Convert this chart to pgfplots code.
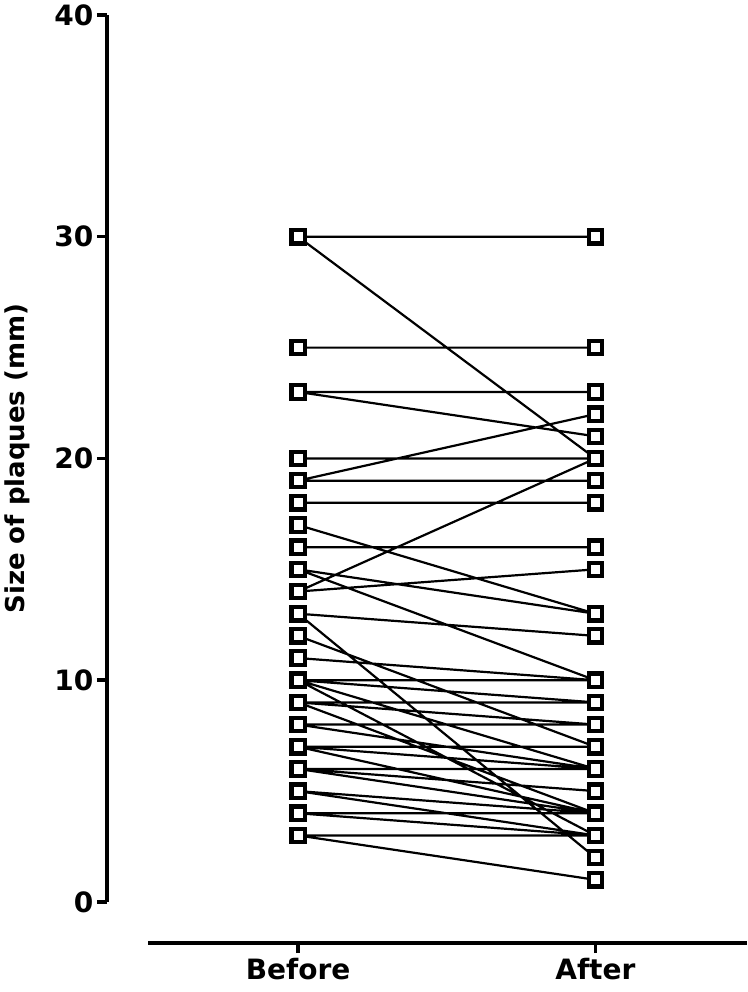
\documentclass[border=0pt]{standalone}
\usepackage{fontspec}
\setmainfont{DejaVu Sans}
\usepackage{pgfplots}
\usepackage{pgfplotstable}
\pgfplotsset{compat=1.18}
% before/after pairs, one segment per subject, separated by nan rows
\pgfplotstableread{
x y
1 30
2 30
nan nan
1 30
2 20
nan nan
1 25
2 25
nan nan
1 23
2 23
nan nan
1 23
2 21
nan nan
1 20
2 20
nan nan
1 19
2 19
nan nan
1 19
2 22
nan nan
1 18
2 18
nan nan
1 17
2 13
nan nan
1 16
2 16
nan nan
1 15
2 13
nan nan
1 15
2 10
nan nan
1 14
2 20
nan nan
1 14
2 15
nan nan
1 13
2 12
nan nan
1 13
2 2
nan nan
1 12
2 7
nan nan
1 11
2 10
nan nan
1 10
2 10
nan nan
1 10
2 9
nan nan
1 10
2 6
nan nan
1 10
2 3
nan nan
1 9
2 9
nan nan
1 9
2 8
nan nan
1 9
2 4
nan nan
1 8
2 8
nan nan
1 8
2 6
nan nan
1 7
2 7
nan nan
1 7
2 6
nan nan
1 7
2 4
nan nan
1 6
2 6
nan nan
1 6
2 5
nan nan
1 6
2 4
nan nan
1 5
2 4
nan nan
1 5
2 3
nan nan
1 4
2 4
nan nan
1 4
2 3
nan nan
1 3
2 3
nan nan
1 3
2 1
}\pairs
\pgfplotstableread{
x y
1 30
1 25
1 23
1 20
1 19
1 18
1 17
1 16
1 15
1 14
1 13
1 12
1 11
1 10
1 9
1 8
1 7
1 6
1 5
1 4
1 3
}\before
\pgfplotstableread{
x y
2 30
2 25
2 23
2 22
2 21
2 20
2 19
2 18
2 16
2 15
2 13
2 12
2 10
2 9
2 8
2 7
2 6
2 5
2 4
2 3
2 2
2 1
}\after
\begin{document}
\begin{tikzpicture}
\useasboundingbox (-107pt,-49pt) rectangle (640pt,943pt);
\begin{axis}[
  scale only axis, width=640pt, height=928pt,
  xmin=0.357, xmax=2.51, ymin=-1.85, ymax=40,
  clip=false,
  axis line style={draw=none},
  xtick pos=bottom, ytick pos=left,
  tick align=outside,
  major tick length=10pt,
  every tick/.style={black, line width=3.5pt},
  xtick={1,2}, xticklabels={Before,After},
  ytick={0,10,20,30,40},
  /pgf/number format/assume math mode=true,
  tick label style={font=\fontsize{28}{28}\selectfont\bfseries},
  yticklabel style={xshift=0pt},
  xticklabel style={yshift=-2pt},
  ylabel={Size of plaques (mm)},
  every axis y label/.style={at={(rel axis cs:0,0.522)}, xshift=-90pt, rotate=90, anchor=center, font=\fontsize{26}{26}\selectfont\bfseries},
]
\draw[line width=4.5pt] (axis cs:0.357,0) -- (axis cs:0.357,40);
\draw[line width=4.5pt] (axis cs:0.495,-1.85) -- (axis cs:2.51,-1.85);
\addplot[black, line width=2.2pt, no marks, unbounded coords=jump] table[x=x,y=y] {\pairs};
\addplot[only marks, mark=square*, mark size=6.7pt, mark options={fill=white, draw=black, line width=4.2pt}] table[x=x,y=y] {\before};
\addplot[only marks, mark=square*, mark size=6.7pt, mark options={fill=white, draw=black, line width=4.2pt}] table[x=x,y=y] {\after};
\end{axis}
\end{tikzpicture}
\end{document}
